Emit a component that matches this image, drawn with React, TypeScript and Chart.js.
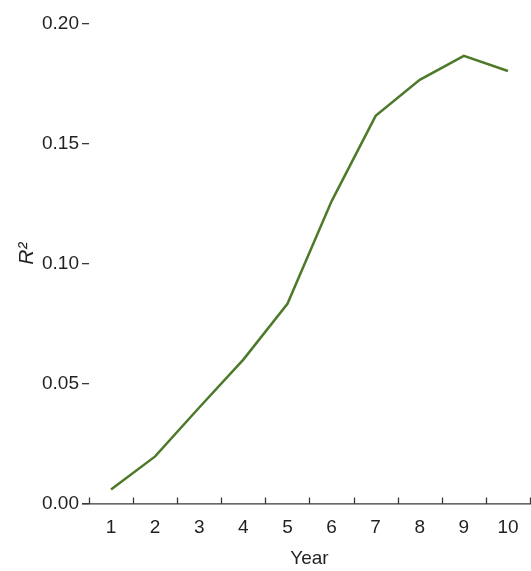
import React, { useEffect, useRef } from "react";
import { Chart, registerables } from "chart.js";

Chart.register(...registerables);

const years = ["1", "2", "3", "4", "5", "6", "7", "8", "9", "10"];
const r2Values = [0.0058, 0.0196, 0.040, 0.060, 0.0833, 0.126, 0.1617, 0.1767, 0.1867, 0.1804];
const yTickValues = [0, 0.05, 0.1, 0.15, 0.2];
const yTitle = "R²";

const FONT = "'Liberation Sans', Arial, sans-serif";
const TEXT = "#231f20";
const AXIS = "#3a3a3a";

const axisPlugin = {
  id: "insideTicks",
  afterDraw(chart: any) {
    const { ctx, chartArea } = chart;
    const x = chart.scales.x;
    const n = years.length;
    const w = (x.right - x.left) / n;
    ctx.save();
    ctx.strokeStyle = AXIS;
    ctx.lineWidth = 1.3;
    ctx.beginPath();
    ctx.moveTo(chartArea.left - 7, chartArea.bottom + 0.5);
    ctx.lineTo(chart.width, chartArea.bottom + 0.5);
    for (let i = 0; i <= n; i++) {
      const px = Math.round(x.left + i * w) + 0.5;
      ctx.moveTo(px, chartArea.bottom);
      ctx.lineTo(px, chartArea.bottom - 6);
    }
    ctx.stroke();
    // y title
    const cy = (chartArea.top + chartArea.bottom) / 2 - 10;
    ctx.translate(chartArea.left - 56, cy);
    ctx.rotate(-Math.PI / 2);
    ctx.fillStyle = TEXT;
    ctx.font = "italic 21px " + FONT;
    ctx.textAlign = "center";
    ctx.textBaseline = "alphabetic";
    ctx.fillText(yTitle, 0, 0);
    ctx.restore();
  },
};

export default function App() {
  const ref = useRef<HTMLCanvasElement>(null);
  useEffect(() => {
    if (!ref.current) return;
    const chart = new Chart(ref.current, {
      type: "line",
      data: {
        labels: years,
        datasets: [
          {
            data: r2Values,
            borderColor: "#4d7a2a",
            borderWidth: 2.5,
            pointRadius: 0,
            tension: 0,
            fill: false,
          },
        ],
      },
      options: {
        animation: false,
        responsive: true,
        maintainAspectRatio: false,
        layout: { padding: { left: 39, right: 1, top: 24, bottom: 1 } },
        plugins: { legend: { display: false }, tooltip: { enabled: false } },
        scales: {
          x: {
            type: "category",
            offset: true,
            grid: { display: false, offset: true },
            border: { display: false },
            ticks: { color: TEXT, font: { family: FONT, size: 19 }, padding: 5, maxRotation: 0 },
            title: { display: true, text: "Year", color: TEXT, font: { family: FONT, size: 19 }, padding: { top: 3, bottom: 0 } },
          },
          y: {
            min: 0,
            max: 0.2,
            afterBuildTicks: (s: any) => {
              s.ticks = yTickValues.map((v) => ({ value: v }));
            },
            grid: { drawOnChartArea: false, drawTicks: true, tickLength: 7, color: AXIS, lineWidth: 1.3 },
            border: { display: false },
            ticks: {
              color: TEXT,
              font: { family: FONT, size: 19 },
              padding: 3,
              callback: (v: any) => Number(v).toFixed(2),
            },
          },
        },
      },
      plugins: [axisPlugin],
    });
    return () => chart.destroy();
  }, []);
  return (
    <div style={{ position: "fixed", left: 0, top: 0, width: 531, height: 571, background: "#fff" }}>
      <canvas ref={ref} />
    </div>
  );
}
